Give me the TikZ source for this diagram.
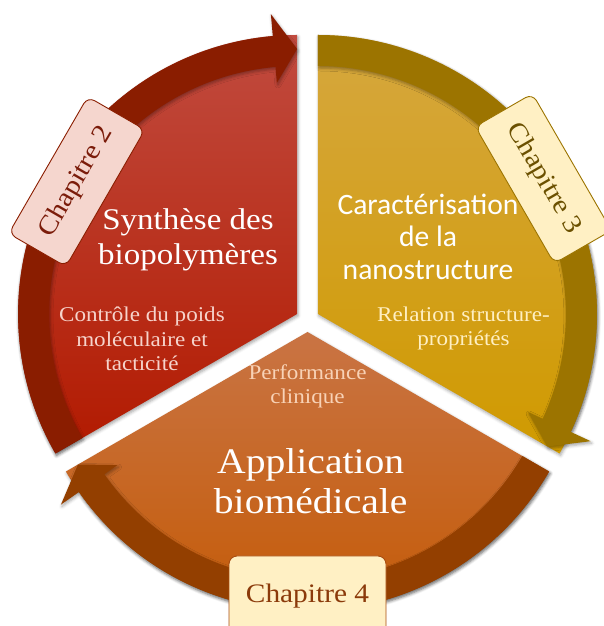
\documentclass[tikz,border=0pt]{standalone}
\usepackage{fontspec}
\setmainfont{Liberation Serif}[FakeStretch=1.1]
\newfontfamily\calib{Carlito}
\usetikzlibrary{shadows.blur}
\definecolor{redtop}{HTML}{C14B3F}
\definecolor{redmid}{HTML}{B8280F}
\definecolor{redbot}{HTML}{B21A00}
\definecolor{redband}{HTML}{8A1D00}
\definecolor{yeltop}{HTML}{D6A73E}
\definecolor{yelmid}{HTML}{D39F12}
\definecolor{yelbot}{HTML}{D09A00}
\definecolor{yelband}{HTML}{9C7400}
\definecolor{ortop}{HTML}{C97444}
\definecolor{ormid}{HTML}{C56316}
\definecolor{orbot}{HTML}{C45800}
\definecolor{orband}{HTML}{933F00}
\definecolor{pinktxt}{HTML}{F6D3CB}
\definecolor{creamtxt}{HTML}{FFEFC2}
\definecolor{peachtxt}{HTML}{F8D2B6}
\definecolor{chtwofill}{HTML}{F5D6CE}
\definecolor{chtwotxt}{HTML}{7B1C0A}
\definecolor{chfill}{HTML}{FFF0C4}
\definecolor{chthreetxt}{HTML}{6B5000}
\definecolor{chfourtxt}{HTML}{8B3A0A}
\definecolor{chfourline}{HTML}{A84C10}
\begin{document}
\begin{tikzpicture}[x=1pt,y=1pt,
  shade/.style={blur shadow={shadow xshift=1pt,shadow yshift=-2pt,shadow blur radius=3pt,shadow opacity=35}},
  bigtxt/.style={inner sep=0pt,anchor=base,text=white,font=\fontsize{30}{35}\selectfont},
  apptxt/.style={inner sep=0pt,anchor=base,text=white,font=\fontsize{36}{40}\selectfont},
  sanstxt/.style={inner sep=0pt,anchor=base,text=white,font=\calib\fontsize{29.6}{34}\selectfont},
  subtxt/.style={inner sep=0pt,anchor=base,font=\fontsize{21}{25}\selectfont},
  chbox/.style={draw,rounded corners=8pt,minimum width=158pt,minimum height=66pt,line width=0.9pt,inner sep=0pt,font=\fontsize{26.7}{30}\selectfont}
]
\useasboundingbox (0,0) rectangle (603,626);
% ---------- red sector ----------
\begin{scope}[shift={(297.1,312)}]
  \coordinate (rc) at (0,0);
  \path[shade,shading=axis,top color=redtop,middle color=redmid,bottom color=redbot]
    (rc) -- (90:279) arc[start angle=90,end angle=210,radius=279] -- cycle;
  \path[shade,fill=redband]
    (210:248) -- (210:279) arc[start angle=210,end angle=95,radius=279]
    -- (95:301) -- (90:265) -- (95:232) -- (95:248)
    arc[start angle=95,end angle=210,radius=248] -- cycle;
  \coordinate (ch2pos) at (149:257);
\end{scope}
% ---------- yellow sector ----------
\begin{scope}[shift={(317.9,312)}]
  \coordinate (yc) at (0,0);
  \path[shade,shading=axis,top color=yeltop,middle color=yelmid,bottom color=yelbot]
    (yc) -- (-30:279) arc[start angle=-30,end angle=90,radius=279] -- cycle;
  \path[shade,fill=yelband]
    (90:248) -- (90:279) arc[start angle=90,end angle=-25,radius=279]
    -- (-25:301) -- (-30:265) -- (-25:232) -- (-25:248)
    arc[start angle=-25,end angle=90,radius=248] -- cycle;
  \coordinate (ch3pos) at (31:263);
\end{scope}
% ---------- orange sector ----------
\begin{scope}[shift={(307.5,294)}]
  \coordinate (oc) at (0,0);
  \path[shade,shading=axis,top color=ortop,middle color=ormid,bottom color=orbot]
    (oc) -- (210:279) arc[start angle=210,end angle=330,radius=279] -- cycle;
  \path[shade,fill=orband]
    (-30:248) -- (-30:279) arc[start angle=-30,end angle=-145,radius=279]
    -- (-145:301) -- (-150:265) -- (-145:232) -- (-145:248)
    arc[start angle=-145,end angle=-30,radius=248] -- cycle;
  \coordinate (ch4pos) at (270:264);
\end{scope}
% ---------- texts ----------
\node[bigtxt] (synA) at (188,396) {Synthèse des};
\node[bigtxt] (synB) at (188,361) {biopolymères};
\node[subtxt,text=pinktxt] (ctlA) at (142,304.3) {Contrôle du poids};
\node[subtxt,text=pinktxt] (ctlB) at (142,279) {moléculaire et};
\node[subtxt,text=pinktxt] (ctlC) at (142,255) {tacticité};
\node[sanstxt] (carA) at (428,411) {Caractérisation};
\node[sanstxt] (carB) at (428,379.3) {de la};
\node[sanstxt] (carC) at (428,346) {nanostructure};
\node[subtxt,text=creamtxt] (relA) at (463.5,304.3) {Relation structure-};
\node[subtxt,text=creamtxt] (relB) at (463.5,280.3) {propriétés};
\node[subtxt,text=peachtxt] (perA) at (307.5,246) {Performance};
\node[subtxt,text=peachtxt] (perB) at (307.5,222.7) {clinique};
\node[apptxt] (appA) at (310.7,152.7) {Application};
\node[apptxt] (appB) at (310.7,112.7) {biomédicale};
% ---------- chapter tags ----------
\node[chbox,rotate=60,fill=chtwofill,draw=redband,text=chtwotxt] (ch2) at (ch2pos) {Chapitre 2};
\node[chbox,rotate=-60,fill=chfill,draw=yelband,text=chthreetxt] (ch3) at (ch3pos) {Chapitre 3};
\node[chbox,minimum width=157pt,minimum height=80pt,fill=chfill,draw=chfourline,text=chfourtxt] (ch4) at (ch4pos) {Chapitre 4};
\end{tikzpicture}
\end{document}
